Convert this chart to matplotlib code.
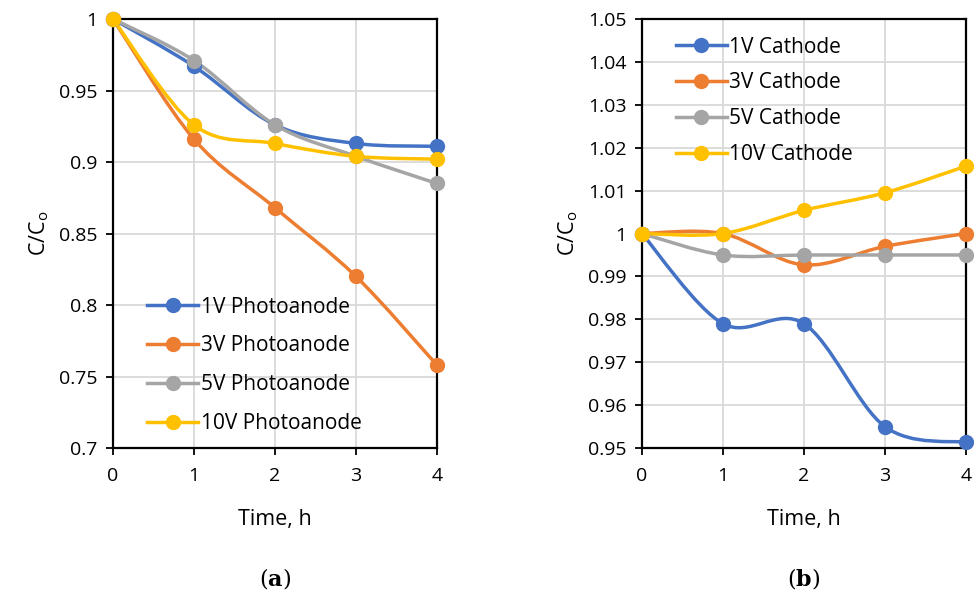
import matplotlib.pyplot as plt
from matplotlib.path import Path
from matplotlib.patches import PathPatch
from matplotlib.lines import Line2D

plt.rcParams['font.family'] = ['Open Sans', 'DejaVu Sans']

time_h = [0, 1, 2, 3, 4]

anode_labels = ['1V Photoanode', '3V Photoanode', '5V Photoanode', '10V Photoanode']
anode_1v = [1.0, 0.967, 0.926, 0.913, 0.911]
anode_3v = [1.0, 0.916, 0.868, 0.820, 0.758]
anode_5v = [1.0, 0.971, 0.926, 0.904, 0.885]
anode_10v = [1.0, 0.926, 0.913, 0.904, 0.902]

cathode_labels = ['1V Cathode', '3V Cathode', '5V Cathode', '10V Cathode']
cathode_1v = [1.0, 0.979, 0.979, 0.955, 0.9513]
cathode_3v = [1.0, 1.0, 0.9927, 0.997, 1.0]
cathode_5v = [1.0, 0.995, 0.995, 0.995, 0.995]
cathode_10v = [1.0, 1.0, 1.0054, 1.0095, 1.0157]

colors = ['#4472C4', '#ED7D31', '#A5A5A5', '#FFC000']


def smooth_path(x, y):
    # excel-like smoothed line as cubic bezier segments
    verts = [(x[0], y[0])]
    codes = [Path.MOVETO]
    n = len(x)
    for i in range(n - 1):
        i0 = max(i - 1, 0)
        i3 = min(i + 2, n - 1)
        c1 = (x[i] + (x[i + 1] - x[i0]) / 6, y[i] + (y[i + 1] - y[i0]) / 6)
        c2 = (x[i + 1] - (x[i3] - x[i]) / 6, y[i + 1] - (y[i3] - y[i]) / 6)
        verts += [c1, c2, (x[i + 1], y[i + 1])]
        codes += [Path.CURVE4] * 3
    return Path(verts, codes)


def draw_panel(ax, series, labels, ylim, yticks, legend_loc, spacing, caption):
    for vals, lab, c in zip(series, labels, colors):
        patch = PathPatch(smooth_path(time_h, vals), facecolor='none', edgecolor=c,
                          lw=2.5, zorder=3, clip_on=False)
        ax.add_patch(patch)
        ax.plot(time_h, vals, 'o', color=c, ms=10, zorder=4, clip_on=False)
    handles = [Line2D([], [], color=c, lw=2.5, marker='o', ms=10) for c in colors]
    ax.legend(handles, labels, frameon=False, fontsize=15, handlelength=2.45,
              handletextpad=0.12, labelspacing=spacing, borderaxespad=0.3,
              **legend_loc)
    ax.set_xlim(0, 4)
    ax.set_ylim(*ylim)
    ax.set_xticks(time_h)
    ax.set_yticks(yticks)
    ax.set_yticklabels([('%.2f' % v).rstrip('0').rstrip('.') for v in yticks])
    ax.grid(True, color='#D9D9D9', lw=1.3)
    ax.set_axisbelow(True)
    for s in ax.spines.values():
        s.set_linewidth(1.6)
        s.set_color('black')
    ax.tick_params(axis='both', labelsize=14, length=5, width=1.3, color='black')
    ax.tick_params(axis='x', pad=9)
    ax.tick_params(axis='y', pad=6)
    ax.set_xlabel('Time, h', fontsize=15.5, labelpad=17)
    ax.set_ylabel('C/C$_\\mathregular{o}$', fontsize=15.5, labelpad=6)
    ax.text(0.5, -0.305, '($\\mathbf{%s}$)' % caption, transform=ax.transAxes,
            ha='center', va='center', fontsize=16, family='DejaVu Serif',
            math_fontfamily='dejavuserif')


fig = plt.figure(figsize=(9.74, 6.03), dpi=100)
ax1 = fig.add_axes([0.116, 0.257, 0.3326, 0.7114])
ax2 = fig.add_axes([0.659, 0.257, 0.3326, 0.7114])

draw_panel(ax1, [anode_1v, anode_3v, anode_5v, anode_10v], anode_labels,
           (0.7, 1.0), [0.7, 0.75, 0.8, 0.85, 0.9, 0.95, 1.0],
           dict(loc='lower left', bbox_to_anchor=(0.06, -0.002)), 0.86, 'a')
draw_panel(ax2, [cathode_1v, cathode_3v, cathode_5v, cathode_10v], cathode_labels,
           (0.95, 1.05), [0.95 + 0.01 * i for i in range(11)],
           dict(loc='upper left', bbox_to_anchor=(0.06, 0.993)), 0.71, 'b')

fig.savefig('out.png', dpi=100)
